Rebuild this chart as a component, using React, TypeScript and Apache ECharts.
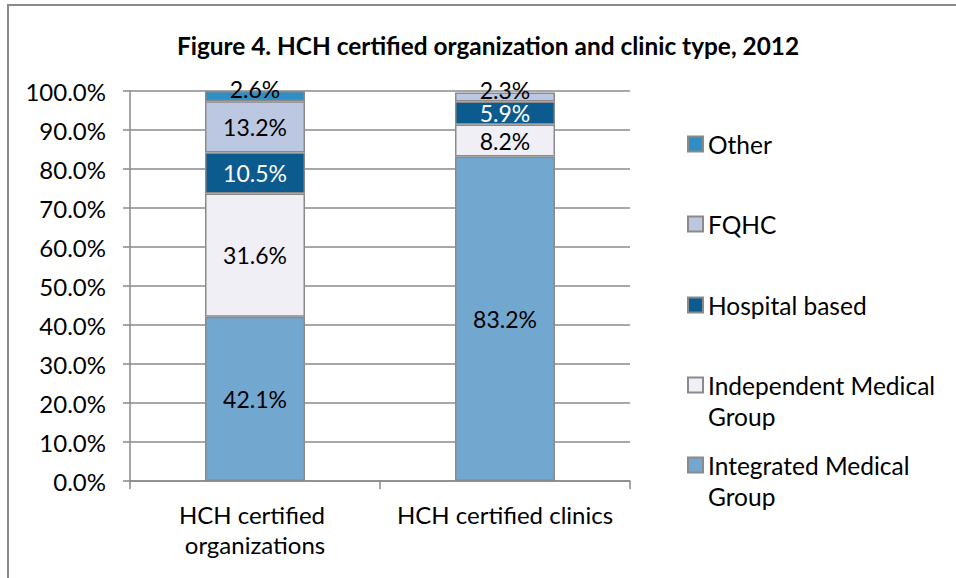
import React, { useEffect, useRef } from "react";
import * as echarts from "echarts";

const categories = ["HCH certified organizations", "HCH certified clinics"];
const seriesNames = [
  "Integrated Medical Group",
  "Independent Medical Group",
  "Hospital based",
  "FQHC",
  "Other",
];
const integrated = [42.1, 83.2];
const independent = [31.6, 8.2];
const hospital = [10.5, 5.9];
const fqhc = [13.2, 2.3];
const other = [2.6, null];
const colors = ["#72A8D0", "#F1EFF6", "#0C5B8F", "#BCC8E2", "#2E8FC6"];
const labelColors = ["#000", "#000", "#fff", "#000", "#000"];
const legendLabels: Record<string, string> = {
  "Integrated Medical Group": "Integrated Medical\nGroup",
  "Independent Medical Group": "Independent Medical\nGroup",
  "Hospital based": "Hospital based",
  FQHC: "FQHC",
  Other: "Other",
};

const FONT = "Lato, 'Open Sans', sans-serif";
const GRAY = "#8a8a8a";

export default function App() {
  const ref = useRef<HTMLDivElement>(null);
  useEffect(() => {
    if (!ref.current) return;
    const chart = echarts.init(ref.current, null, { renderer: "svg" });
    const values = [integrated, independent, hospital, fqhc, other];
    // index of top (last non-null) series per category
    const topIdx = categories.map((_, c) => {
      let t = 0;
      values.forEach((arr, s) => {
        if (arr[c] != null) t = s;
      });
      return t;
    });
    const legendCenters: Record<string, number> = {
      Other: 144,
      FQHC: 224,
      "Hospital based": 305,
      "Independent Medical Group": 385,
      "Integrated Medical Group": 465,
    };
    const legendOrder = ["Other", "FQHC", "Hospital based", "Independent Medical Group", "Integrated Medical Group"];
    const LH = 31;
    const legends = legendOrder.map((name) => {
      const multi = legendLabels[name].includes("\n");
      return {
        show: true,
        data: [name],
        left: 687,
        top: multi ? legendCenters[name] - LH * 1.5 : legendCenters[name] - LH / 2,
        padding: 0,
        orient: "vertical",
        icon: "rect",
        itemWidth: 15,
        itemHeight: 15,
        itemGap: 0,
        selectedMode: false,
        formatter: (n: string) => (legendLabels[n].includes("\n") ? "\n" + legendLabels[n] : legendLabels[n]),
        textStyle: {
          fontFamily: FONT,
          fontSize: 24.5,
          color: "#000",
          lineHeight: LH,
        },
      };
    });
    chart.setOption({
      animation: false,
      backgroundColor: "#fff",
      title: {
        text: "Figure 4. HCH certified organization and clinic type, 2012",
        left: 483,
        textAlign: "center",
        top: 28,
        textStyle: { fontFamily: FONT, fontWeight: "bold", fontSize: 24.4, color: "#000" },
      },
      graphic: [
        {
          type: "rect",
          shape: { x: 8, y: 5, width: 980, height: 620 },
          style: { fill: "none", stroke: GRAY, lineWidth: 2 },
          silent: true,
          z: 100,
        },
      ],
      legend: legends,
      grid: { left: 130, right: 326, top: 91, bottom: 97, containLabel: false },
      xAxis: {
        type: "category",
        data: categories,
        axisLine: { show: true, lineStyle: { color: GRAY, width: 1.5 } },
        axisTick: { show: true, length: 8, lineStyle: { color: GRAY, width: 1.5 } },
        axisLabel: {
          fontFamily: FONT,
          fontSize: 24,
          color: "#000",
          lineHeight: 30,
          margin: 18,
          width: 240,
          overflow: "break",
          interval: 0,
        },
      },
      yAxis: {
        type: "value",
        min: 0,
        max: 100,
        interval: 10,
        axisLine: { show: true, lineStyle: { color: GRAY, width: 1.5 } },
        axisTick: { show: true, length: 7, lineStyle: { color: GRAY, width: 1.5 } },
        splitLine: { show: true, lineStyle: { color: GRAY, width: 1.5 } },
        axisLabel: {
          fontFamily: FONT,
          fontSize: 24,
          color: "#000",
          margin: 24,
          formatter: (v: number) => v.toFixed(1) + "%",
        },
      },
      series: seriesNames.map((name, i) => ({
        name,
        type: "bar",
        stack: "total",
        barWidth: 100,
        data: values[i].map((v, c) =>
          topIdx[c] === i && v != null ? { value: v, label: { offset: [0, -7] } } : v
        ),
        itemStyle: { color: colors[i], borderColor: GRAY, borderWidth: 1.5 },
        label: {
          show: true,
          position: "inside",
          fontFamily: FONT,
          fontSize: 23,
          lineHeight: 18,
          color: labelColors[i],
          formatter: (p: any) => (p.value == null ? "" : Number(p.value).toFixed(1) + "%"),
        },
      })),
    });
    return () => chart.dispose();
  }, []);
  return (
    <div
      ref={ref}
      style={{ position: "absolute", left: 0, top: 0, width: 956, height: 578 }}
    />
  );
}
